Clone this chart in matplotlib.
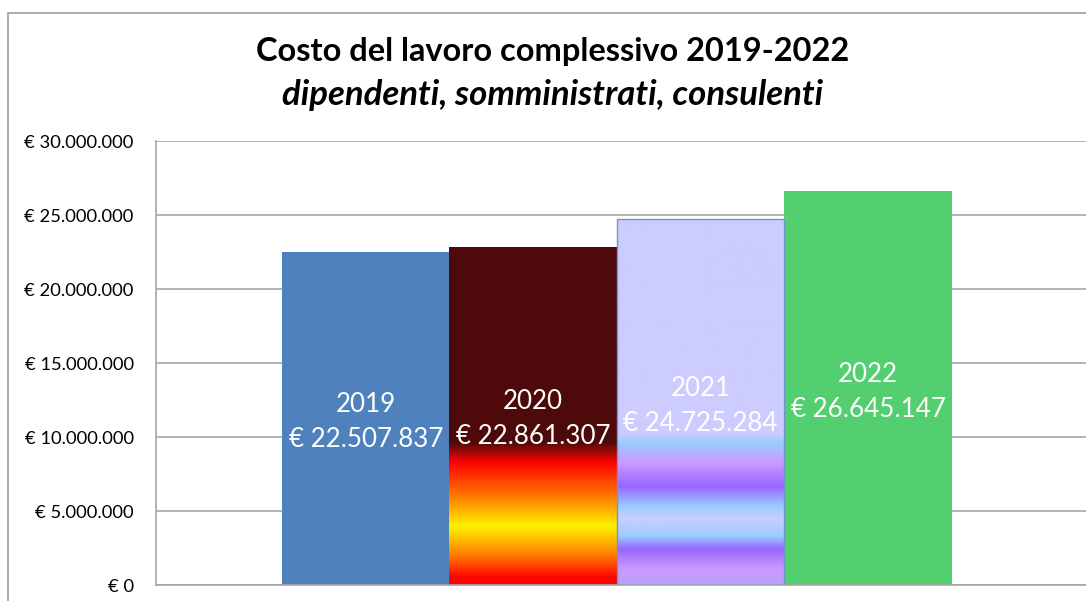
import numpy as np
import matplotlib.pyplot as plt
from matplotlib.colors import LinearSegmentedColormap
from matplotlib.patches import Rectangle

years = ['2019', '2020', '2021', '2022']
costs = [22507837, 22861307, 24725284, 26645147]
y_ticks = [0, 5000000, 10000000, 15000000, 20000000, 25000000, 30000000]

title = 'Costo del lavoro complessivo 2019-2022'
subtitle = 'dipendenti, somministrati, consulenti'

# gradient stops (fraction of bar height from the bottom, colour)
fire_stops = [(0.0, '#FF0300'), (0.02, '#FF0300'), (0.085, '#FF7A00'), (0.171, '#FFF200'),
              (0.26, '#FF7A00'), (0.36, '#FF0300'), (0.42, '#4E0A0A'), (1.0, '#4E0A0A')]
daybreak_stops = [(0.0, '#B8A0FF'), (0.041, '#CC99FF'), (0.096, '#9966FF'), (0.131, '#99CCFF'),
                  (0.178, '#CCCCFF'), (0.213, '#99CCFF'), (0.268, '#9966FF'), (0.333, '#CC99FF'),
                  (0.388, '#99CCFF'), (0.415, '#CCCCFF'), (1.0, '#CCCCFF')]
colors = ['#4F81BD', fire_stops, daybreak_stops, '#53CF6F']


def euro(v):
    return '€ ' + f'{int(v):,}'.replace(',', '.')


plt.rcParams['font.family'] = ['Lato', 'DejaVu Sans']

fig = plt.figure(figsize=(10.86, 6.01), dpi=100)
fig.patches.append(Rectangle((8 / 1086, -0.1), 1.1, 588 / 601 + 0.1, transform=fig.transFigure,
                             fill=False, edgecolor='#A0A0A0', linewidth=1.2, zorder=0))

ax = fig.add_axes([156 / 1086, 16 / 601, 930 / 1086, 444 / 601])

for i, (yr, val, col) in enumerate(zip(years, costs, colors)):
    if isinstance(col, str):
        ax.bar(i, val, width=1.0, color=col, zorder=2)
    else:
        edge = '#7096D0' if i == 2 else 'none'
        bar = ax.bar(i, val, width=1.0, color='none', edgecolor=edge, linewidth=1, zorder=3)[0]
        cmap = LinearSegmentedColormap.from_list('g%d' % i, col)
        grad = np.linspace(0, 1, 400).reshape(-1, 1)
        im = ax.imshow(grad, cmap=cmap, extent=[i - 0.5, i + 0.5, 0, val], origin='lower',
                       aspect='auto', zorder=2, interpolation='bilinear')
        im.set_clip_path(bar)
    ax.text(i, val * 0.49, yr + '\n' + euro(val), ha='center', va='center', color='white',
            fontsize=18.7, linespacing=1.5, zorder=5)

ax.set_xlim(-1.252, 4.3)
ax.set_ylim(0, 30000000)
ax.set_yticks(y_ticks)
ax.set_yticklabels([euro(v) for v in y_ticks], fontsize=13.2)
ax.set_xticks([])
ax.tick_params(axis='y', length=0, pad=16)
ax.grid(axis='y', color='#A6A6A6', linewidth=1.2, zorder=0)
ax.set_axisbelow(True)
for s in ['top', 'right']:
    ax.spines[s].set_visible(False)
for s in ['left', 'bottom']:
    ax.spines[s].set_color('#A6A6A6')
    ax.spines[s].set_linewidth(1.2)

fig.text(553 / 1086, 1 - 52 / 601, title, ha='center', va='center', fontsize=23.4, fontweight='bold')
fig.text(553 / 1086, 1 - 95 / 601, subtitle, ha='center', va='center', fontsize=25,
         fontweight='bold', style='italic')

fig.savefig('out.png', dpi=100)
